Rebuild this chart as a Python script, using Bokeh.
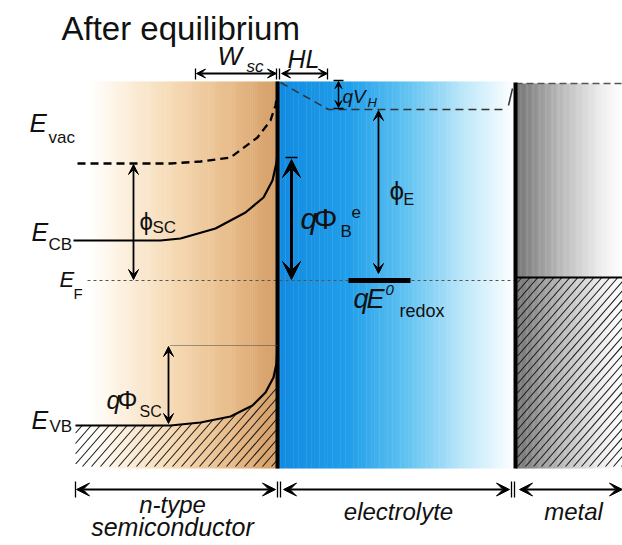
import numpy as np
from bokeh.plotting import figure
from bokeh.models import Arrow, VeeHead, Range1d
from bokeh.core.properties import value
from bokeh.embed import file_html
from bokeh.resources import INLINE

# ---------------- data (pixel units, y downwards) ----
evac_x = [77, 170, 200, 230, 257, 270, 275, 277]
evac_y = [163, 163, 161, 157, 137, 120, 105, 92]
ecb_x = [73, 160, 180, 215, 245, 263, 272, 276, 277]
ecb_y = [240, 240, 238, 228, 212, 197, 180, 162, 152]
evb_x = [75, 170, 200, 230, 252, 265, 273, 276, 277]
evb_y = [425, 425, 422, 416, 405, 392, 377, 363, 345]
helm_x = [280, 328, 507]
helm_y = [82, 109, 109]
ef_level = 280
metal_ef_level = 277
redox_x = [348, 410]
region_names = ["n-type", "semiconductor", "electrolyte", "metal"]

W, H = 622, 545
FONT = "Liberation Sans"

p = figure(width=W, height=H, x_range=Range1d(0, W), y_range=Range1d(H, 0),
           output_backend="svg", toolbar_location=None, min_border=0)
p.xaxis.visible = False
p.yaxis.visible = False
p.xgrid.visible = False
p.ygrid.visible = False
p.outline_line_color = None
p.background_fill_color = "white"

TOP, BOT = 81, 468
X_SC0, X_INT, X_MET = 88, 277, 515
HATCH_BOT = 466


def gradient(x0, x1, y0, y1, stops, n=90):
    xs = np.linspace(x0, x1, n + 1)
    pos = np.array([s[0] for s in stops])
    cols = np.array([s[1] for s in stops], dtype=float)
    colors = []
    for i in range(n):
        f = (i + 0.5) / n
        c = [np.interp(f, pos, cols[:, k]) for k in range(3)]
        colors.append("#%02x%02x%02x" % tuple(int(round(v)) for v in c))
    p.quad(left=xs[:-1], right=xs[1:] + 0.4, top=[y0] * n, bottom=[y1] * n,
           fill_color=colors, line_color=None)


gradient(X_SC0, X_INT, TOP, BOT, [(0, (255, 255, 255)), (0.15, (253, 243, 228)),
                                   (0.45, (245, 217, 180)), (0.75, (232, 188, 138)),
                                   (1.0, (212, 157, 102))])
gradient(X_INT, 512, TOP, BOT, [(0, (18, 138, 224)), (0.3, (32, 158, 234)),
                                (0.55, (98, 195, 241)), (0.8, (192, 232, 250)),
                                (1.0, (252, 254, 255))])
gradient(X_MET, W, 83, BOT, [(0, (115, 115, 115)), (0.4, (182, 182, 182)),
                             (0.8, (238, 238, 238)), (1.0, (255, 255, 255))])


# manual diagonal hatching
def hatch(x_lo, x_hi, top_x, top_y, spacing, steep=1.15):
    xs0, ys0, xs1, ys1 = [], [], [], []
    ys = np.arange(HATCH_BOT, 250, -0.25)
    for b in np.arange(x_lo - 200, x_hi, spacing):
        xs = b + (HATCH_BOT - ys) / steep
        ok = (xs >= x_lo) & (xs <= x_hi) & (ys >= np.interp(xs, top_x, top_y))
        idx = np.nonzero(ok)[0]
        if len(idx) < 2:
            continue
        i0 = idx[0]
        i1 = i0
        while i1 + 1 < len(ok) and ok[i1 + 1]:
            i1 += 1
        xs0.append(xs[i0]); ys0.append(ys[i0]); xs1.append(xs[i1]); ys1.append(ys[i1])
    p.segment(x0=xs0, y0=ys0, x1=xs1, y1=ys1, line_color="#1a1a1a", line_width=1.1)


hatch(evb_x[0], X_INT, evb_x, evb_y, 9)
hatch(X_MET + 2, W, [X_MET, W], [metal_ef_level, metal_ef_level], 8)

# Fermi level (dashed, across)
p.line(x=[87, X_MET], y=[ef_level, ef_level], line_color="#555555",
       line_width=1, line_dash="3 3")
p.line(x=[X_MET, W], y=[metal_ef_level, metal_ef_level], line_color="black",
       line_width=2)
p.line(x=[X_MET, W], y=[83, 83], line_color="#555555", line_width=1.5,
       line_dash="7 4")

# band curves
p.line(x=evac_x, y=evac_y, line_color="black", line_width=2.3, line_dash="8 5")
p.line(x=ecb_x, y=ecb_y, line_color="black", line_width=2.2)
p.line(x=evb_x, y=evb_y, line_color="black", line_width=2.2)

# Helmholtz / vacuum level in electrolyte
p.line(x=helm_x, y=helm_y, line_color="#333333", line_width=1.5, line_dash="8 5")
p.line(x=[508, 512], y=[105, 88], line_color="#333333", line_width=1.5)

# redox level
p.line(x=redox_x, y=[ef_level, ef_level], line_color="black", line_width=5)

# interfaces
p.line(x=[X_INT, X_INT], y=[TOP, BOT], line_color="black", line_width=4)
p.line(x=[X_MET, X_MET], y=[82, BOT], line_color="black", line_width=4)

# thin dotted reference for q Phi_SC
p.line(x=[170, X_INT], y=[345, 345], line_color="#444444", line_width=1,
       line_dash="1 1")


def arrow(x0, y0, x1, y1, size=10, lw=1.8):
    p.add_layout(Arrow(x_start=x0, y_start=y0, x_end=x1, y_end=y1,
                       line_width=lw, line_color="black",
                       start=VeeHead(size=size, fill_color="black", line_color="black"),
                       end=VeeHead(size=size, fill_color="black", line_color="black")))


arrow(133, 164, 133, 279)
arrow(168, 346, 168, 423)
arrow(291, 159, 291, 279, size=18, lw=3)
arrow(378, 110, 378, 273)
arrow(338, 81, 338, 107, size=7, lw=1.5)
arrow(196, 73, 276, 73, size=9)
arrow(281, 73, 327, 73, size=9)
arrow(76, 489, 275, 489, size=13, lw=2)
arrow(283, 489, 509, 489, size=13, lw=2)
arrow(519, 489, 622, 489, size=13, lw=2)

# small tick bars
tick_x0 = [195, 276, 279, 327, 75, 277, 280, 511, 514, 333, 333, 285]
tick_x1 = [195, 276, 279, 327, 75, 277, 280, 511, 514, 343, 343, 297]
tick_y0 = [68, 68, 68, 68, 481, 481, 481, 481, 481, 80, 108, 157]
tick_y1 = [79, 79, 79, 79, 497, 497, 497, 497, 497, 80, 108, 157]
p.segment(x0=tick_x0, y0=tick_y0, x1=tick_x1, y1=tick_y1, line_color="black",
          line_width=1.3)

# labels: text, x, baseline y, size, style, align
labels = [
    ("After equilibrium", 61, 40, 33, "normal", "left"),
    ("E", 29, 132, 26, "italic", "left"), ("vac", 48, 143, 17, "normal", "left"),
    ("E", 31, 240, 25, "italic", "left"), ("CB", 48, 250, 17, "normal", "left"),
    ("E", 59, 287, 22, "italic", "left"), ("F", 73, 298, 15, "normal", "left"),
    ("E", 31, 428, 25, "italic", "left"), ("VB", 49, 432, 17, "normal", "left"),
    ("\u03d5", 139, 229, 24, "normal", "left"), ("SC", 152, 233, 17, "normal", "left"),
    ("q", 106, 408, 25, "italic", "left"), ("\u03a6", 117, 408, 25, "normal", "left"),
    ("SC", 139, 417, 16, "normal", "left"),
    ("W", 217, 65, 26, "italic", "left"), ("sc", 246, 72, 17, "italic", "left"),
    ("HL", 287, 67, 25, "italic", "left"),
    ("qV", 342, 103, 19, "italic", "left"), ("H", 367, 107, 13, "italic", "left"),
    ("q", 300, 228, 30, "italic", "left"), ("\u03a6", 313, 228, 30, "normal", "left"),
    ("B", 340, 237, 17, "normal", "left"), ("e", 351, 217, 17, "normal", "left"),
    ("\u03d5", 389, 200, 26, "normal", "left"), ("E", 403, 205, 16, "normal", "left"),
    ("q", 353, 308, 27, "italic", "left"), ("E", 366, 308, 27, "italic", "left"),
    ("0", 385, 295, 15, "italic", "left"),
    ("redox", 399, 317, 18, "normal", "left"),
    (region_names[0], 172, 512, 24, "italic", "center"),
    (region_names[1], 172, 535, 25, "italic", "center"),
    (region_names[2], 398, 519, 24, "italic", "center"),
    (region_names[3], 573, 519, 24, "italic", "center"),
]
BASE_SHIFT = 0.35  # observed renderer offset of the alphabetic baseline
for t, x, y, s, st, al in labels:
    p.text(x=[x], y=[y - BASE_SHIFT * s], text=[t], text_font=value(FONT),
           text_font_size=f"{s}px", text_font_style=st, text_align=al,
           text_baseline="alphabetic", text_color="#111111")

open("out.html", "w").write(file_html(p, INLINE))
